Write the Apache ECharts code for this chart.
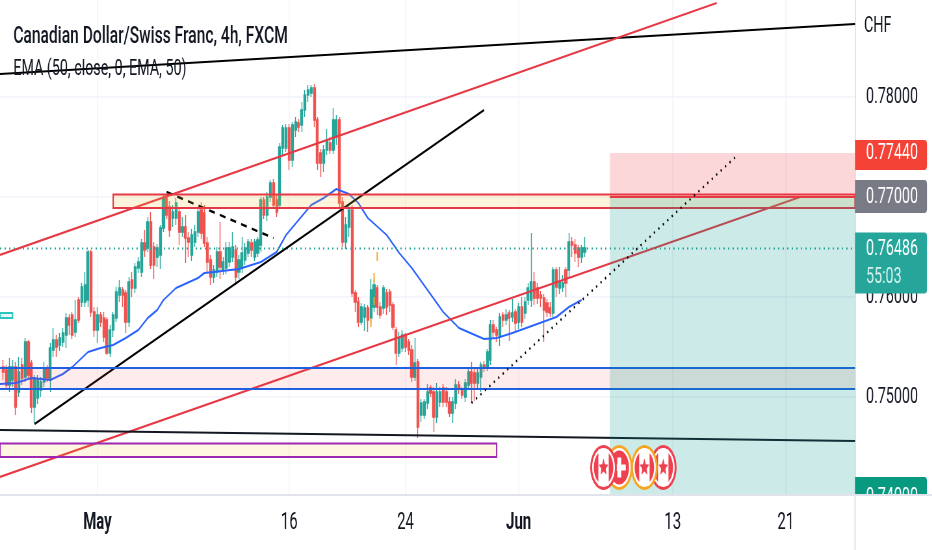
<!DOCTYPE html>
<html>
<head>
<meta charset="utf-8">
<style>
html,body{margin:0;padding:0;background:#fff;overflow:hidden;width:932px;height:550px}
#chart{position:absolute;left:0;top:0;height:550px;transform-origin:0 0}
</style>
<script src="https://cdn.jsdelivr.net/npm/echarts@6/dist/echarts.min.js"></script>
</head>
<body>
<div id="chart"></div>
<script>
// ---------- values ----------
const titleText = 'Canadian Dollar/Swiss Franc, 4h, FXCM';
const indicatorText = 'EMA (50, close, 0, EMA, 50)';
const currencyText = 'CHF';
const slotCount = 273;
const xTickSlots = [31, 92, 129, 165, 214, 250];
const xTickLabels = ['May', '16', '24', 'Jun', '13', '21'];
const yTicks = [0.75, 0.76, 0.77, 0.78];
const yMin = 0.7402, yMax = 0.7897;

// open, close, low, high in units of 0.0001
const candles = [
[7530,7525,7517,7537],[7527,7512,7507,7532],[7512,7530,7505,7539],[7517,7530,7510,7537],[7530,7490,7482,7535],
[7505,7525,7500,7540],[7532,7519,7512,7539],[7520,7555,7515,7559],[7555,7522,7518,7557],[7534,7490,7484,7537],
[7490,7519,7474,7522],[7499,7517,7493,7522],[7507,7515,7500,7520],[7515,7529,7510,7535],[7529,7519,7515,7532],
[7517,7549,7505,7554],[7547,7557,7540,7569],[7557,7550,7540,7562],[7552,7559,7546,7564],[7555,7564,7550,7569],
[7562,7579,7549,7584],[7579,7572,7562,7583],[7582,7562,7558,7585],[7565,7577,7560,7597],[7597,7577,7574,7600],
[7595,7610,7590,7614],[7595,7612,7590,7625],[7597,7645,7590,7647],[7645,7585,7580,7647],[7585,7567,7560,7590],
[7567,7582,7554,7590],[7582,7575,7570,7585],[7579,7560,7555,7585],[7577,7544,7542,7580],[7544,7567,7540,7572],
[7567,7582,7560,7585],[7579,7605,7575,7610],[7602,7609,7595,7617],[7607,7602,7590,7610],[7604,7575,7564,7607],
[7575,7615,7570,7620],[7617,7609,7600,7625],[7609,7630,7604,7634],[7629,7635,7624,7640],[7625,7654,7620,7658],
[7654,7647,7640,7667],[7649,7675,7645,7680],[7675,7632,7628,7685],[7650,7632,7618,7655],[7640,7649,7630,7653],
[7642,7669,7628,7672],[7669,7699,7665,7702],[7699,7682,7678,7703],[7690,7667,7660,7696],[7679,7685,7670,7692],
[7679,7694,7672,7699],[7685,7665,7652,7690],[7665,7670,7660,7680],[7670,7659,7634,7682],[7659,7655,7640,7665],
[7642,7662,7636,7668],[7655,7665,7650,7672],[7665,7685,7660,7690],[7687,7664,7658,7695],[7684,7654,7650,7692],
[7654,7635,7625,7660],[7637,7620,7612,7642],[7620,7627,7614,7632],[7625,7645,7620,7650],[7645,7630,7618,7675],
[7627,7635,7622,7640],[7629,7649,7623,7655],[7635,7649,7630,7655],[7640,7650,7635,7665],[7647,7620,7612,7652],
[7625,7637,7618,7642],[7629,7644,7624,7660],[7637,7649,7632,7654],[7644,7655,7640,7658],[7654,7647,7640,7658],
[7640,7655,7636,7658],[7644,7657,7640,7660],[7652,7697,7645,7700],[7697,7682,7678,7700],[7682,7700,7676,7705],
[7700,7714,7695,7717],[7714,7692,7688,7718],[7697,7685,7680,7702],[7692,7750,7688,7754],[7749,7769,7742,7772],
[7749,7769,7745,7773],[7769,7737,7727,7773],[7737,7772,7730,7775],[7767,7775,7760,7780],[7774,7770,7765,7778],
[7772,7787,7765,7795],[7787,7802,7780,7807],[7802,7807,7795,7812],[7804,7809,7800,7812],[7809,7777,7770,7813],
[7777,7734,7727,7780],[7744,7734,7720,7748],[7734,7747,7725,7752],[7747,7757,7742,7768],[7754,7747,7743,7760],
[7747,7777,7743,7789],[7760,7777,7752,7782],[7777,7694,7690,7780],[7695,7655,7650,7700],[7655,7672,7648,7680],
[7670,7687,7660,7692],[7687,7604,7600,7692],[7604,7595,7585,7607],[7595,7575,7570,7600],[7575,7590,7572,7594],
[7580,7589,7566,7593],[7589,7577,7565,7592],[7579,7607,7575,7618],[7590,7612,7585,7617],[7609,7590,7582,7612],
[7590,7582,7578,7595],[7589,7609,7583,7612],[7604,7590,7582,7608],[7605,7592,7585,7608],[7592,7570,7567,7595],
[7567,7544,7532,7570],[7544,7559,7540,7565],[7549,7562,7545,7567],[7562,7550,7545,7564],[7555,7547,7542,7558],
[7547,7520,7515,7552],[7520,7534,7516,7559],[7535,7470,7459,7538],[7482,7494,7475,7498],[7482,7495,7478,7498],
[7494,7505,7488,7513],[7509,7504,7500,7512],[7505,7480,7465,7510],[7480,7505,7474,7514],[7495,7505,7490,7510],
[7509,7495,7490,7513],[7505,7495,7490,7510],[7495,7484,7480,7500],[7484,7495,7474,7500],[7494,7512,7488,7518],
[7512,7509,7503,7516],[7507,7502,7498,7510],[7500,7514,7495,7518],[7512,7525,7508,7530],[7525,7514,7494,7535],
[7524,7514,7496,7528],[7514,7524,7508,7530],[7520,7532,7505,7535],[7532,7529,7525,7536],[7530,7545,7526,7548],
[7537,7572,7532,7577],[7572,7565,7560,7577],[7567,7562,7555,7570],[7560,7580,7551,7584],[7582,7577,7570,7585],
[7577,7582,7572,7588],[7584,7579,7556,7587],[7580,7584,7575,7598],[7585,7574,7564,7588],[7575,7590,7568,7594],
[7590,7575,7570,7600],[7584,7595,7578,7600],[7597,7609,7592,7614],[7597,7615,7590,7664],[7615,7599,7592,7625],
[7609,7599,7593,7614],[7602,7599,7590,7606],[7599,7587,7555,7603],[7594,7585,7580,7598],[7589,7584,7580,7595],
[7584,7627,7580,7630],[7627,7610,7600,7630],[7609,7615,7603,7630],[7610,7614,7605,7622],[7627,7614,7600,7630],
[7627,7655,7620,7664],[7655,7652,7640,7660],[7652,7644,7635,7658],[7649,7640,7630,7652],[7640,7649,7634,7652],
[7645,7649,7640,7660]
];

const emaSlots = [0,5,10,16,20,23,26,28,32,36,40,44,47,50,52,56,63,65,68,76,83,88,91,95,99,103,107,111,114,117,123,127,131,136,141,146,154,158,163,170,177,181,185];
const emaValues = [7513,7514,7519,7517,7523,7530,7539,7545,7549,7552,7559,7567,7579,7587,7597,7609,7619,7624,7625,7628,7635,7645,7662,7677,7692,7699,7708,7703,7694,7679,7662,7644,7629,7607,7585,7569,7558,7559,7564,7572,7580,7590,7597];

const lastPrice = 0.76486, countdown = '55:03';
const stopPrice = 0.7744, entryPrice = 0.77, targetPrice = 0.74;
const zoneStart = 194, zoneEnd = 272;
const topBlack = [[0,0.7823],[272,0.7873]];
const upperRed = [[0,0.7642],[228,0.7894]];
const lowerRed = [[0,0.7420],[255,0.77005]];
const diagBlack = [[11,0.7473],[154,0.7787]];
const dashBlack = [[53,0.7705],[87,0.7659]];
const dotBlack = [[150,0.7494],[234,0.7740]];
const lowBlack = [[0,0.7467],[272,0.7456]];
const blueLevels = [0.7529, 0.7508];
const resistanceBox = [36, 0.77025, 272, 0.7689];
const purpleBox = [0, 0.74535, 158, 0.7440];
const smallBox = [0, 0.7584, 4, 0.7579];
const orangeMarks = [[120,0.7645,0.7636],[119,0.7624,0.7614],[119,0.7600,0.7592],[118,0.7579,0.7570]];
const eventSlots = [197,192,211,205];
const eventPrice = 0.74295;
const eventFlags = ['CH','CA','CA','CA'];

// ---------- drawing ----------
const SX = 0.65;
const W = 932 / SX, AXIS_X = 855 / SX, GRID_H = 495;
const el = document.getElementById('chart');
el.style.width = W + 'px';
el.style.transform = 'scaleX(' + SX + ')';
const FONT = 'Roboto';
const UP = '#26a69a', DOWN = '#ef5350';
const categories = Array.from({length: slotCount}, (_, i) => {
  const k = xTickSlots.indexOf(i); return k >= 0 ? xTickLabels[k] : '';
});
const priced = v => v / 10000;

function lineS(data, color, width, type, z) {
  return {type:'line', data, z, silent:true, showSymbol:false, symbol:'none', animation:false,
    lineStyle:{color, width, type: type || 'solid', cap:'butt'}};
}
function boxS(box, fill, stroke, lw, z) {
  return {type:'custom', z, silent:true, animation:false, clip:true,
    data:[box], encode:{x:[0,2], y:[1,3]},
    renderItem(p, api) {
      const a = api.coord([api.value(0), api.value(1)]), b = api.coord([api.value(2), api.value(3)]);
      return {type:'rect', shape:{x:a[0], y:a[1], width:b[0]-a[0], height:b[1]-a[1]},
        style:{fill, stroke: stroke || null, lineWidth: lw || 0}};
    }};
}
function badgeS(rows) {
  return {type:'custom', z:40, silent:true, animation:false, clip:false,
    data: rows.map(r => [zoneEnd, r.price]), encode:{x:0, y:1},
    renderItem(p, api) {
      const r = rows[p.dataIndex];
      const y = api.coord([api.value(0), api.value(1)])[1];
      const kids = [{type:'rect', shape:{x:AXIS_X, y:y-r.up, width:72/SX, height:r.up+r.down, r:[0,4,4,0]}, style:{fill:r.color}}];
      r.lines.forEach(l => kids.push({type:'text', style:{x:866/SX, y:y+l.dy, text:l.text, fill:l.fill||'#fff',
        font:'22px '+FONT, textAlign:'left', textVerticalAlign:'middle'}}));
      return {type:'group', children:kids};
    }};
}
function star(cx, cy, r) {
  const pts = [];
  for (let i = 0; i < 10; i++) {
    const a = -Math.PI/2 + i*Math.PI/5, q = i % 2 ? r*0.45 : r;
    pts.push([cx + q*Math.cos(a)*1.1, cy + q*Math.sin(a)*1.3]);
  }
  return pts;
}
const option = {
  backgroundColor:'#fff',
  animation:false,
  title:[
    {text:titleText, left:10/SX, top:20, textStyle:{fontFamily:FONT, fontSize:24, fontWeight:500, color:'#131722'}},
    {text:indicatorText, left:10/SX, top:53, textStyle:{fontFamily:FONT, fontSize:22, fontWeight:400, color:'#131722'}}
  ],
  grid:{left:0, top:0, width:AXIS_X, height:GRID_H, containLabel:false},
  xAxis:{type:'category', data:categories, boundaryGap:false,
    axisLine:{show:true, onZero:false, lineStyle:{color:'#e0e3eb', width:2}},
    axisTick:{show:false},
    splitLine:{show:true, interval:(i,v)=>v!=='', lineStyle:{color:'#f0f3fa', width:1.5}},
    axisLabel:{interval:(i,v)=>v!=='', margin:17, fontFamily:FONT, fontSize:23, color:'#131722',
      formatter:v=> /[A-Za-z]/.test(v) ? '{m|'+v+'}' : v,
      rich:{m:{fontFamily:FONT, fontSize:23, fontWeight:700, color:'#131722'}}}},
  yAxis:{type:'value', position:'right', min:yMin, max:yMax, scale:true,
    axisLine:{show:true, onZero:false, lineStyle:{color:'#e0e3eb', width:2}},
    axisTick:{show:false, customValues:yTicks},
    splitLine:{show:true, lineStyle:{color:'#f0f3fa', width:1.5}},
    axisLabel:{customValues:yTicks, margin:11/SX, fontFamily:FONT, fontSize:22, color:'#131722', formatter:v=>v.toFixed(5)}},
  graphic:[
    {type:'text', z:60, x:864/SX, y:15, style:{text:currencyText, font:'22px '+FONT, fill:'#131722'}},
    {type:'rect', z:60, shape:{x:AXIS_X-1, y:GRID_H, width:W-AXIS_X+1, height:55}, style:{fill:'#fff'}},
    {type:'line', z:61, shape:{x1:AXIS_X, y1:GRID_H, x2:AXIS_X, y2:550}, style:{stroke:'#e0e3eb', lineWidth:2}},
    {type:'line', z:61, shape:{x1:0, y1:GRID_H, x2:W, y2:GRID_H}, style:{stroke:'#e0e3eb', lineWidth:2}}
  ],
  series:[
    {type:'candlestick', z:2, silent:true, barWidth:3.6, animation:false,
      data:candles.map((c,i)=>[i+1, priced(c[0]), priced(c[1]), priced(c[2]), priced(c[3])]),
      encode:{x:0, y:[1,2,3,4]},
      itemStyle:{color:UP, color0:DOWN, borderColor:UP, borderColor0:DOWN, borderWidth:1.4}},
    lineS(emaSlots.map((s,i)=>[s, priced(emaValues[i])]), '#2962ff', 2, 'solid', 3),
    lineS([[0,lastPrice],[zoneEnd,lastPrice]], UP, 2, [2,5], 3),
    lineS(topBlack, '#000', 2, 'solid', 4),
    lineS(upperRed, '#e63946', 2.2, 'solid', 4),
    lineS(lowerRed, '#e63946', 2.2, 'solid', 4),
    lineS(diagBlack, '#000', 2.4, 'solid', 4),
    lineS(dashBlack, '#000', 2.4, [9,8], 4),
    lineS(lowBlack, '#131722', 2, 'solid', 4),
    boxS([0, blueLevels[0], zoneEnd, blueLevels[1]], 'rgba(242,54,69,0.1)', null, 0, 5),
    lineS([[0,blueLevels[0]],[zoneEnd,blueLevels[0]]], '#1f5fe0', 2, 'solid', 5),
    lineS([[0,blueLevels[1]],[zoneEnd,blueLevels[1]]], '#1f5fe0', 2, 'solid', 5),
    boxS(resistanceBox, 'rgba(251,192,45,0.17)', '#e63946', 2, 6),
    boxS(purpleBox, 'rgba(251,192,45,0.14)', '#9c27b0', 2, 6),
    boxS(smallBox, 'rgba(38,198,218,0.12)', '#2cc4bd', 2, 6),
    boxS([zoneStart, stopPrice, zoneEnd, entryPrice], 'rgba(242,54,69,0.2)', null, 0, 7),
    boxS([zoneStart, entryPrice, zoneEnd, yMin], 'rgba(0,150,136,0.2)', null, 0, 7),
    lineS([[zoneStart,entryPrice],[zoneEnd,entryPrice]], '#e63946', 2, 'solid', 8),
    lineS(dotBlack, '#000', 2.4, [2,6], 8),
    {type:'custom', z:3, silent:true, animation:false,
      data:orangeMarks, encode:{x:0, y:[1,2]},
      renderItem(p, api){
        const a = api.coord([api.value(0), api.value(1)]), b = api.coord([api.value(0), api.value(2)]);
        return {type:'line', shape:{x1:a[0], y1:a[1], x2:b[0], y2:b[1]}, style:{stroke:'#f7a823', lineWidth:2}};
      }},
    {type:'custom', z:12, silent:true, animation:false, clip:false,
      data:eventSlots.map(s=>[s, eventPrice]), encode:{x:0, y:1},
      renderItem(p, api){
        const c = api.coord([api.value(0), api.value(1)]), cx = c[0], cy = c[1];
        const kind = eventFlags[p.dataIndex];
        const ring = (p.dataIndex === 0 || p.dataIndex === 3) ? '#f5a623' : '#ef4050';
        const kids = [{type:'ellipse', shape:{cx, cy, rx:19, ry:21}, style:{fill:'#fff', stroke:ring, lineWidth:3}}];
        kids.push({type:'ellipse', shape:{cx, cy, rx:15, ry:17}, style:{fill:'#ef4050'}});
        if (kind === 'CA') {
          kids.push({type:'rect', shape:{x:cx-8, y:cy-18, width:16, height:36}, style:{fill:'#fff'}});
          kids.push({type:'polygon', shape:{points:star(cx, cy, 7)}, style:{fill:'#ef4050'}});
        } else {
          kids.push({type:'rect', shape:{x:cx-3, y:cy-10, width:6, height:20}, style:{fill:'#fff'}});
          kids.push({type:'rect', shape:{x:cx-10, y:cy-3, width:20, height:6}, style:{fill:'#fff'}});
        }
        return {type:'group', children:kids};
      }},
    badgeS([
      {price:stopPrice, color:'#f44336', up:13, down:17, lines:[{text:stopPrice.toFixed(5), dy:0}]},
      {price:entryPrice, color:'#787b86', up:17, down:16, lines:[{text:entryPrice.toFixed(5), dy:0}]},
      {price:lastPrice, color:UP, up:16, down:45, lines:[{text:lastPrice.toFixed(5), dy:1},{text:countdown, dy:29, fill:'#d5f0ec'}]},
      {price:targetPrice, color:'#089981', up:20, down:20, lines:[{text:targetPrice.toFixed(5), dy:0}]}
    ])
  ]
};
echarts.init(el, null, {renderer:'canvas'}).setOption(option);
</script>
</body>
</html>
